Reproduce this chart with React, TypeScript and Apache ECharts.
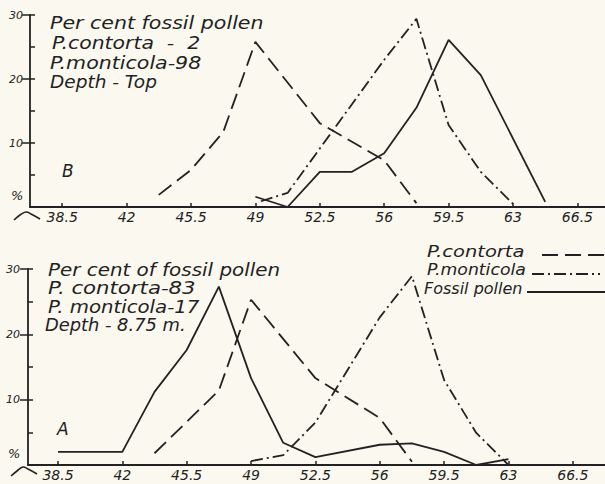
import { useEffect, useRef } from 'react';
import * as echarts from 'echarts';

// ---- data ----
const xTickValues = [38.5, 42, 45.5, 49, 52.5, 56, 59.5, 63, 66.5];
const yTickValues = [10, 20, 30];

const seriesNames = ['P.contorta', 'P.monticola', 'Fossil pollen'];

// Panel B (top): Depth - Top
const topContorta = [[43.75, 1.9], [45.5, 5.8], [47.25, 11.7], [49, 25.8], [52.5, 13.1], [56, 7.3], [57.75, 0.6]];
const topMonticola = [[49.3, 0.9], [50.75, 2.2], [56, 23], [57.75, 29.4], [59.5, 12.8], [61.25, 5.5], [63, 0.5]];
const topFossil = [[49, 1.6], [50.75, 0], [52.5, 5.5], [54.25, 5.5], [56, 8.4], [57.75, 15.5], [59.5, 26.1], [61.25, 20.6], [64.75, 0.8]];

// Panel A (bottom): Depth - 8.75 m.
const botContorta = [[43.75, 1.8], [47.25, 11.4], [49, 25.3], [52.5, 13.3], [56, 7.2], [57.75, 0.5]];
const botMonticola = [[49, 0.6], [50.75, 1.5], [52.5, 6.5], [56, 22.6], [57.75, 28.9], [59.5, 13], [61.25, 4.9], [63, 0]];
const botFossil = [[38.5, 2], [42, 2], [43.75, 11.2], [45.5, 17.6], [47.25, 27.3], [49, 13.3], [50.75, 3.4], [52.5, 1.2], [56, 3.1], [57.75, 3.3], [59.5, 2], [61.25, 0], [63, 0.9]];

const topNotes = ['Per cent fossil pollen', 'P.contorta  -  2', 'P.monticola-98', 'Depth - Top'];
const botNotes = ['Per cent of fossil pollen', 'P. contorta-83', 'P. monticola-17', 'Depth - 8.75 m.'];

const INK = '#222';
const FONT = 'DejaVu Sans';
const dashTypes: (number[] | 'solid')[] = [[16, 7], [12, 4, 2, 4], 'solid'];

export default function App() {
  const ref = useRef<HTMLDivElement>(null);
  useEffect(() => {
    if (!ref.current) return;
    const chart = echarts.init(ref.current, null, { renderer: 'svg' });

    const xAxisBase = (gridIndex: number, min: number, max: number) => ({
      type: 'value',
      gridIndex,
      min,
      max,
      axisLine: { show: true, lineStyle: { color: INK, width: 1.8 } },
      axisTick: { show: true, inside: true, length: 4, customValues: xTickValues, lineStyle: { color: INK, width: 1.5 } },
      axisLabel: {
        customValues: xTickValues,
        color: INK,
        fontFamily: FONT,
        fontStyle: 'italic',
        fontSize: 14,
        margin: 3,
      },
      splitLine: { show: false },
    });

    const yMain = (gridIndex: number, margin: number) => ({
      type: 'value',
      gridIndex,
      min: 0,
      max: 30,
      interval: 10,
      position: 'left',
      axisLine: { show: true, lineStyle: { color: INK, width: 1.8 } },
      axisTick: { show: true, inside: false, length: 8, customValues: yTickValues, lineStyle: { color: INK, width: 1.5 } },
      axisLabel: {
        customValues: yTickValues,
        color: INK,
        fontFamily: FONT,
        fontStyle: 'italic',
        fontSize: 11,
        margin,
      },
      splitLine: { show: false },
    });
    const yMinor = (gridIndex: number) => ({
      type: 'value',
      gridIndex,
      min: 0,
      max: 30,
      interval: 5,
      position: 'left',
      offset: 0,
      axisLine: { show: false },
      axisTick: { show: true, inside: true, length: 5, lineStyle: { color: INK, width: 1.5 } },
      axisLabel: { show: false },
      splitLine: { show: false },
    });

    const mk = (idx: number, data: number[][], grid: number) => ({
      name: seriesNames[idx],
      type: 'line',
      xAxisIndex: grid,
      yAxisIndex: grid * 2,
      data,
      symbol: 'none',
      showSymbol: false,
      lineStyle: { color: INK, width: 1.8, type: dashTypes[idx] },
      itemStyle: { color: INK },
      z: 3,
    });

    const txt = (t: string, x: number, y: number, size: number, sx = 1) => ({
      type: 'text',
      x,
      y,
      scaleX: sx,
      style: { text: t, fill: INK, fontFamily: FONT, fontStyle: 'italic', fontSize: size, verticalAlign: 'middle', align: 'left' },
    });

    // hand lettering is wider than the font: per-line horizontal stretch
    const topStretch = [1.21, 1.2, 1.21, 1.09];
    const botStretch = [1.17, 1.25, 1.16, 1.05];
    const noteTexts = (lines: string[], xs: number[], ys: number[], sx: number[]) =>
      lines.map((t, i) => txt(t, xs[i], ys[i], 17, sx[i]));

    // legend drawn as text + line sample in the reference's style
    const legendX = [427, 427, 424];
    const legendY = [251, 270, 288];
    const legendStretch = [1.22, 1.08, 1.0];
    const legendLine = [[542, 605], [532, 600], [527, 605]];
    const legendLineY = [255, 274, 292];
    const legendItems = seriesNames.flatMap((n, i) => [
      txt(n, legendX[i], legendY[i], 16, legendStretch[i]),
      {
        type: 'line',
        shape: { x1: legendLine[i][0], y1: legendLineY[i], x2: legendLine[i][1], y2: legendLineY[i] },
        style: {
          stroke: INK,
          lineWidth: 1.8,
          lineDash: dashTypes[i] === 'solid' ? null : (dashTypes[i] as number[]),
        },
      },
    ]);

    chart.setOption({
      animation: false,
      backgroundColor: '#faf8ef',
      grid: [
        { left: 30, top: 15, right: 0, height: 192 },
        { left: 28, top: 269, right: 0, height: 196 },
      ],
      xAxis: [xAxisBase(0, 36.75, 68.0), xAxisBase(1, 36.87, 68.25)],
      yAxis: [yMain(0, 7), yMinor(0), yMain(1, 8), yMinor(1)],
      series: [
        mk(0, topContorta, 0),
        mk(1, topMonticola, 0),
        mk(2, topFossil, 0),
        mk(0, botContorta, 1),
        mk(1, botMonticola, 1),
        mk(2, botFossil, 1),
      ],
      graphic: [
        ...noteTexts(topNotes, [50, 52, 50, 50], [23, 43, 62.5, 82], topStretch),
        ...noteTexts(botNotes, [48, 48, 48, 45], [270, 288.5, 307, 325.5], botStretch),
        ...legendItems,
        txt('B', 62, 171, 17),
        txt('A', 57, 429, 17),
        txt('%', 11, 195, 13),
        txt('%', 8, 453, 13),
        {
          type: 'polyline',
          shape: { points: [[14, 220], [20, 215], [26, 212], [31, 214], [40, 219]], smooth: 0.4 },
          style: { stroke: INK, lineWidth: 1.6, fill: null },
        },
        {
          type: 'polyline',
          shape: { points: [[11, 476], [17, 471], [23, 467], [28, 469], [37, 474]], smooth: 0.4 },
          style: { stroke: INK, lineWidth: 1.6, fill: null },
        },
      ],
    });
    return () => chart.dispose();
  }, []);
  return <div ref={ref} style={{ position: 'fixed', left: 0, top: 0, width: 605, height: 484 }} />;
}
